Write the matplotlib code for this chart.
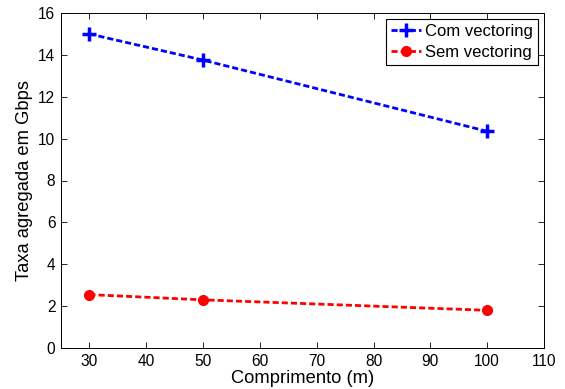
import matplotlib
matplotlib.use("Agg")
import matplotlib.pyplot as plt

plt.rcParams['font.family'] = ['Liberation Sans', 'DejaVu Sans']

comprimento = [30, 50, 100]
com_vectoring = [15.0, 13.75, 10.35]
sem_vectoring = [2.55, 2.3, 1.8]
xticks = [30, 40, 50, 60, 70, 80, 90, 100, 110]
yticks = [0, 2, 4, 6, 8, 10, 12, 14, 16]

fig = plt.figure(figsize=(5.65, 3.89), dpi=100)
ax = fig.add_axes([61/565, 1-348/389, (544-61)/565, (348-13)/389])

ax.plot(comprimento, com_vectoring, color='#0000ff', linestyle='--', linewidth=2.0,
        marker='+', markersize=10, markeredgewidth=2.5, label='Com vectoring', dashes=(2.2, 1.1))
ax.plot(comprimento, sem_vectoring, color='#ff0000', linestyle='--', linewidth=2.0,
        marker='o', markersize=7, label='Sem vectoring', dashes=(2.2, 1.1))

ax.set_xlim(25, 110)
ax.set_ylim(0, 16)
ax.set_xticks(xticks)
ax.set_yticks(yticks)
ax.tick_params(direction='in', top=True, right=True, labelsize=11.2, length=4, width=0.6, pad=4)
for s in ax.spines.values():
    s.set_linewidth(0.7)
ax.set_xlabel('Comprimento (m)', fontsize=13.2, labelpad=1)
ax.set_ylabel('Taxa agregada em Gbps', fontsize=13.2, labelpad=4)

leg = ax.legend(loc='upper right', fontsize=12, fancybox=False, framealpha=1,
                edgecolor='black', handlelength=1.8, handletextpad=0.2,
                borderpad=0.3, labelspacing=0.35, borderaxespad=0.38)
leg.get_frame().set_linewidth(0.8)

fig.savefig('out.png', dpi=100)
